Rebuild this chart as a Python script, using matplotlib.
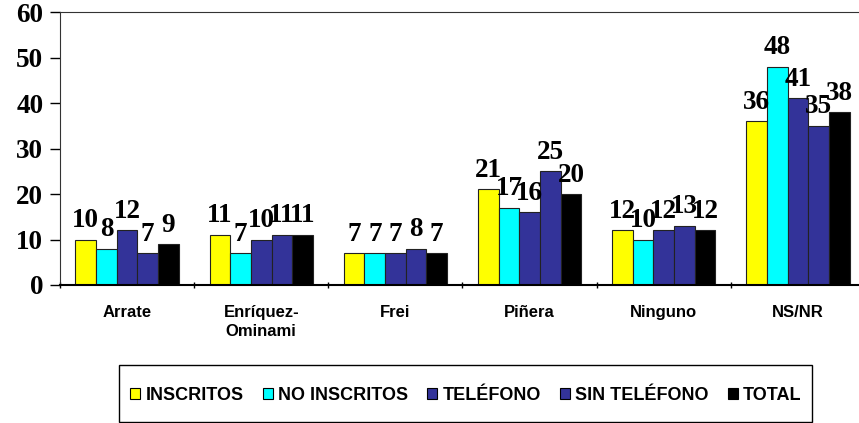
import matplotlib
matplotlib.use("Agg")
import matplotlib.pyplot as plt
import numpy as np
from matplotlib.patches import Rectangle, Patch

categories = ["Arrate", "Enríquez-\nOminami", "Frei", "Piñera", "Ninguno", "NS/NR"]
series_names = ["INSCRITOS", "NO INSCRITOS", "TELÉFONO", "SIN TELÉFONO", "TOTAL"]
inscritos = [10, 11, 7, 21, 12, 36]
no_inscritos = [8, 7, 7, 17, 10, 48]
telefono = [12, 10, 7, 16, 12, 41]
sin_telefono = [7, 11, 8, 25, 13, 35]
total = [9, 11, 7, 20, 12, 38]
yticks = [0, 10, 20, 30, 40, 50, 60]

series = [inscritos, no_inscritos, telefono, sin_telefono, total]
colors = ["#FFFF00", "#00FFFF", "#333399", "#333399", "#000000"]

fig = plt.figure(figsize=(8.59, 4.23), dpi=100)
ax = fig.add_axes([60/859, 1-285/423, 805/859, 273/423])

n = len(categories)
x = np.arange(n)
w = 0.77 / 5
for i, (vals, c) in enumerate(zip(series, colors)):
    pos = x - 0.385 + w*(i+0.5)
    ax.bar(pos, vals, width=w, color=c, edgecolor="#222222", linewidth=0.8, zorder=2)
    for p, v in zip(pos, vals):
        ax.annotate(str(v), (p, v), xytext=(0, 9), textcoords="offset points",
                    ha="center", va="baseline", fontsize=19.5, fontweight="bold",
                    family="Liberation Serif", zorder=3)

ax.set_xlim(-0.5, n-0.5)
ax.set_ylim(0, 60)
ax.set_yticks(yticks)
ax.set_yticklabels([str(t) for t in yticks], fontsize=19.5, fontweight="bold", family="Liberation Serif")
ax.set_xticks(np.arange(-0.5, n, 1))
ax.set_xticklabels([])
ax.set_xticks(x, minor=True)
ax.set_xticklabels(categories, minor=True, fontsize=12, fontweight="bold", family="Liberation Sans",
                   linespacing=1.35)
ax.tick_params(axis="x", which="minor", length=0, pad=14.5)
ax.tick_params(axis="x", which="major", length=5, width=1, direction="inout")
ax.tick_params(axis="y", length=7, width=1, pad=5)
for s in ["top", "right", "left", "bottom"]:
    ax.spines[s].set_color("#333333")
ax.spines["bottom"].set_color("black")
ax.spines["bottom"].set_linewidth(1.5)

# legend box
fig.patches.append(Rectangle((119/859, 1-422/423), 693/859, 57/423, transform=fig.transFigure,
                             fill=False, edgecolor="black", linewidth=1))
handles = [Patch(facecolor=c, edgecolor="black", linewidth=0.8) for c in colors]
fig.legend(handles, series_names, loc="center", bbox_to_anchor=(466/859, 1-395/423), ncol=5,
           frameon=False, prop={"family": "Liberation Sans", "weight": "bold", "size": 13},
           handlelength=0.55, handleheight=0.55, handletextpad=0.3, columnspacing=1.05)

fig.savefig("out.png", dpi=100)
